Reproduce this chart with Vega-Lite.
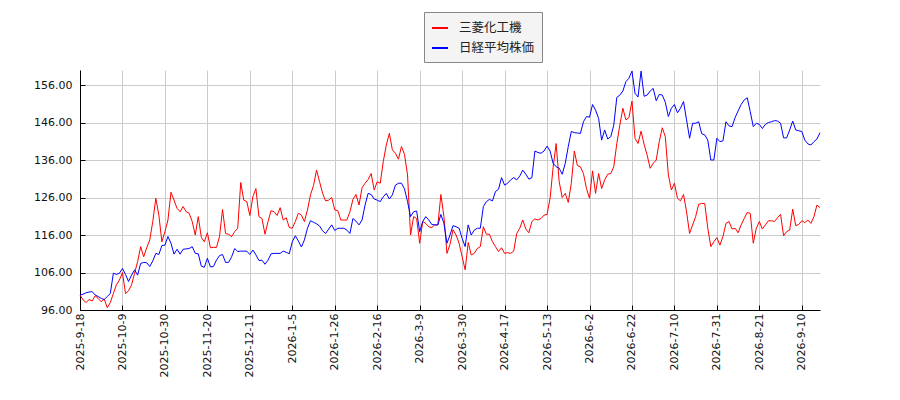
{
  "$schema": "https://vega.github.io/schema/vega-lite/v6.json",
  "description": "三菱化工機 と 日経平均株価 の比較",
  "width": 740,
  "height": 240,
  "autosize": {"type": "none"},
  "padding": {"left": 80, "top": 70, "right": 80, "bottom": 90},
  "background": "#ffffff",
  "data": {
    "values": [
      {"d": "2025-9-18", "三菱化工機": 100.0, "日経平均株価": 100.0},
      {"d": "2025-9-19", "三菱化工機": 98.7, "日経平均株価": 100.2},
      {"d": "2025-9-22", "三菱化工機": 98.0, "日経平均株価": 100.6},
      {"d": "2025-9-24", "三菱化工機": 98.8, "日経平均株価": 100.8},
      {"d": "2025-9-25", "三菱化工機": 98.4, "日経平均株価": 100.9},
      {"d": "2025-9-26", "三菱化工機": 99.8, "日経平均株価": 100.0},
      {"d": "2025-9-29", "三菱化工機": 99.1, "日経平均株価": 99.6},
      {"d": "2025-9-30", "三菱化工機": 98.2, "日経平均株価": 99.1},
      {"d": "2025-10-1", "三菱化工機": 98.9, "日経平均株価": 98.8},
      {"d": "2025-10-2", "三菱化工機": 96.6, "日経平均株価": 99.6},
      {"d": "2025-10-3", "三菱化工機": 98.0, "日経平均株価": 100.4},
      {"d": "2025-10-6", "三菱化工機": 100.4, "日経平均株価": 105.8},
      {"d": "2025-10-7", "三菱化工機": 102.7, "日経平均株価": 105.5},
      {"d": "2025-10-8", "三菱化工機": 104.0, "日経平均株価": 105.8},
      {"d": "2025-10-9", "三菱化工機": 106.0, "日経平均株価": 107.1},
      {"d": "2025-10-10", "三菱化工機": 100.4, "日経平均株価": 105.5},
      {"d": "2025-10-14", "三菱化工機": 101.1, "日経平均株価": 103.6},
      {"d": "2025-10-15", "三菱化工機": 102.7, "日経平均株価": 105.3},
      {"d": "2025-10-16", "三菱化工機": 105.8, "日経平均株価": 106.7},
      {"d": "2025-10-17", "三菱化工機": 108.9, "日経平均株価": 105.3},
      {"d": "2025-10-20", "三菱化工機": 112.9, "日経平均株価": 108.4},
      {"d": "2025-10-21", "三菱化工機": 110.2, "日経平均株価": 108.7},
      {"d": "2025-10-22", "三菱化工機": 112.6, "日経平均株価": 108.6},
      {"d": "2025-10-23", "三菱化工機": 114.7, "日経平均株価": 107.6},
      {"d": "2025-10-24", "三菱化工機": 119.6, "日経平均株価": 109.1},
      {"d": "2025-10-27", "三菱化工機": 125.8, "日経平均株価": 111.1},
      {"d": "2025-10-28", "三菱化工機": 121.3, "日経平均株価": 110.8},
      {"d": "2025-10-29", "三菱化工機": 114.2, "日経平均株価": 113.2},
      {"d": "2025-10-30", "三菱化工機": 116.9, "日経平均株価": 113.3},
      {"d": "2025-10-31", "三菱化工機": 120.0, "日経平均株価": 115.6},
      {"d": "2025-11-4", "三菱化工機": 127.4, "日経平均株価": 113.8},
      {"d": "2025-11-5", "三菱化工機": 125.3, "日経平均株価": 110.9},
      {"d": "2025-11-6", "三菱化工機": 123.1, "日経平均株価": 112.2},
      {"d": "2025-11-7", "三菱化工機": 122.2, "日経平均株価": 110.9},
      {"d": "2025-11-10", "三菱化工機": 123.6, "日経平均株価": 112.2},
      {"d": "2025-11-11", "三菱化工機": 122.2, "日経平均株価": 112.3},
      {"d": "2025-11-12", "三菱化工機": 121.8, "日経平均株価": 112.4},
      {"d": "2025-11-13", "三菱化工機": 119.6, "日経平均株価": 112.9},
      {"d": "2025-11-14", "三菱化工機": 116.0, "日経平均株価": 111.1},
      {"d": "2025-11-17", "三菱化工機": 120.9, "日経平均株価": 111.0},
      {"d": "2025-11-18", "三菱化工機": 115.4, "日経平均株価": 107.7},
      {"d": "2025-11-19", "三菱化工機": 114.2, "日経平均株価": 107.4},
      {"d": "2025-11-20", "三菱化工機": 116.6, "日経平均株価": 109.8},
      {"d": "2025-11-21", "三菱化工機": 112.6, "日経平均株価": 107.5},
      {"d": "2025-11-25", "三菱化工機": 112.7, "日経平均株価": 107.6},
      {"d": "2025-11-26", "三菱化工機": 112.7, "日経平均株価": 109.3},
      {"d": "2025-11-27", "三菱化工機": 115.6, "日経平均株価": 110.5},
      {"d": "2025-11-28", "三菱化工機": 122.8, "日経平均株価": 110.8},
      {"d": "2025-12-1", "三菱化工機": 116.4, "日経平均株価": 108.7},
      {"d": "2025-12-2", "三菱化工機": 116.2, "日経平均株価": 108.7},
      {"d": "2025-12-3", "三菱化工機": 115.6, "日経平均株価": 110.2},
      {"d": "2025-12-4", "三菱化工機": 116.9, "日経平均株価": 112.4},
      {"d": "2025-12-5", "三菱化工機": 117.8, "日経平均株価": 111.6},
      {"d": "2025-12-8", "三菱化工機": 130.0, "日経平均株価": 111.7},
      {"d": "2025-12-9", "三菱化工機": 125.3, "日経平均株価": 111.7},
      {"d": "2025-12-10", "三菱化工機": 124.9, "日経平均株価": 111.7},
      {"d": "2025-12-11", "三菱化工機": 121.2, "日経平均株価": 110.8},
      {"d": "2025-12-12", "三菱化工機": 126.2, "日経平均株価": 112.0},
      {"d": "2025-12-15", "三菱化工機": 128.4, "日経平均株価": 110.7},
      {"d": "2025-12-16", "三菱化工機": 120.9, "日経平均株価": 109.2},
      {"d": "2025-12-17", "三菱化工機": 120.4, "日経平均株価": 109.3},
      {"d": "2025-12-18", "三菱化工機": 116.2, "日経平均株価": 108.2},
      {"d": "2025-12-19", "三菱化工機": 119.6, "日経平均株価": 109.3},
      {"d": "2025-12-22", "三菱化工機": 122.5, "日経平均株価": 111.0},
      {"d": "2025-12-23", "三菱化工機": 122.2, "日経平均株価": 111.1},
      {"d": "2025-12-24", "三菱化工機": 121.2, "日経平均株価": 111.1},
      {"d": "2025-12-25", "三菱化工機": 123.3, "日経平均株価": 111.1},
      {"d": "2025-12-26", "三菱化工機": 120.0, "日経平均株価": 111.7},
      {"d": "2025-12-29", "三菱化工機": 120.6, "日経平均株価": 111.4},
      {"d": "2025-12-30", "三菱化工機": 118.0, "日経平均株価": 111.0},
      {"d": "2026-1-5", "三菱化工機": 117.8, "日経平均株価": 114.2},
      {"d": "2026-1-6", "三菱化工機": 119.6, "日経平均株価": 115.8},
      {"d": "2026-1-7", "三菱化工機": 121.8, "日経平均株価": 114.4},
      {"d": "2026-1-8", "三菱化工機": 121.3, "日経平均株価": 112.8},
      {"d": "2026-1-9", "三菱化工機": 119.6, "日経平均株価": 114.7},
      {"d": "2026-1-13", "三菱化工機": 122.7, "日経平均株価": 117.8},
      {"d": "2026-1-14", "三菱化工機": 126.7, "日経平均株価": 119.8},
      {"d": "2026-1-15", "三菱化工機": 129.2, "日経平均株価": 119.4},
      {"d": "2026-1-16", "三菱化工機": 133.3, "日経平均株価": 119.0},
      {"d": "2026-1-19", "三菱化工機": 130.2, "日経平均株価": 118.4},
      {"d": "2026-1-20", "三菱化工機": 127.1, "日経平均株価": 117.1},
      {"d": "2026-1-21", "三菱化工機": 125.1, "日経平均株価": 116.4},
      {"d": "2026-1-22", "三菱化工機": 125.3, "日経平均株価": 117.6},
      {"d": "2026-1-23", "三菱化工機": 126.0, "日経平均株価": 118.7},
      {"d": "2026-1-26", "三菱化工機": 122.7, "日経平均株価": 117.2},
      {"d": "2026-1-27", "三菱化工機": 122.5, "日経平均株価": 117.8},
      {"d": "2026-1-28", "三菱化工機": 120.0, "日経平均株価": 117.8},
      {"d": "2026-1-29", "三菱化工機": 120.0, "日経平均株価": 117.8},
      {"d": "2026-1-30", "三菱化工機": 120.0, "日経平均株価": 117.3},
      {"d": "2026-2-2", "三菱化工機": 122.2, "日経平均株価": 116.4},
      {"d": "2026-2-3", "三菱化工機": 125.5, "日経平均株価": 120.4},
      {"d": "2026-2-4", "三菱化工機": 126.8, "日経平均株価": 119.7},
      {"d": "2026-2-5", "三菱化工機": 124.0, "日経平均株価": 118.7},
      {"d": "2026-2-6", "三菱化工機": 128.6, "日経平均株価": 120.0},
      {"d": "2026-2-9", "三菱化工機": 129.8, "日経平均株価": 124.0},
      {"d": "2026-2-10", "三菱化工機": 130.8, "日経平均株価": 127.1},
      {"d": "2026-2-12", "三菱化工機": 132.4, "日経平均株価": 126.8},
      {"d": "2026-2-13", "三菱化工機": 128.0, "日経平均株価": 125.6},
      {"d": "2026-2-16", "三菱化工機": 130.2, "日経平均株価": 125.3},
      {"d": "2026-2-17", "三菱化工機": 129.8, "日経平均株価": 124.9},
      {"d": "2026-2-18", "三菱化工機": 135.6, "日経平均株価": 126.2},
      {"d": "2026-2-19", "三菱化工機": 140.0, "日経平均株価": 127.1},
      {"d": "2026-2-20", "三菱化工機": 143.1, "日経平均株価": 125.6},
      {"d": "2026-2-24", "三菱化工機": 138.7, "日経平均株価": 126.7},
      {"d": "2026-2-25", "三菱化工機": 137.8, "日経平均株価": 129.3},
      {"d": "2026-2-26", "三菱化工機": 136.2, "日経平均株価": 129.8},
      {"d": "2026-2-27", "三菱化工機": 139.6, "日経平均株価": 129.8},
      {"d": "2026-3-2", "三菱化工機": 137.5, "日経平均株価": 128.3},
      {"d": "2026-3-3", "三菱化工機": 132.0, "日経平均株価": 124.9},
      {"d": "2026-3-4", "三菱化工機": 116.0, "日経平均株価": 120.9},
      {"d": "2026-3-5", "三菱化工機": 120.9, "日経平均株価": 122.2},
      {"d": "2026-3-6", "三菱化工機": 120.4, "日経平均株価": 122.4},
      {"d": "2026-3-9", "三菱化工機": 113.8, "日経平均株価": 116.9},
      {"d": "2026-3-10", "三菱化工機": 119.6, "日経平均株価": 119.6},
      {"d": "2026-3-11", "三菱化工機": 119.1, "日経平均株価": 120.9},
      {"d": "2026-3-12", "三菱化工機": 118.2, "日経平均株価": 120.0},
      {"d": "2026-3-13", "三菱化工機": 118.0, "日経平均株価": 118.8},
      {"d": "2026-3-16", "三菱化工機": 118.7, "日経平均株価": 118.7},
      {"d": "2026-3-17", "三菱化工機": 118.7, "日経平均株価": 118.7},
      {"d": "2026-3-18", "三菱化工機": 126.8, "日経平均株価": 121.5},
      {"d": "2026-3-19", "三菱化工機": 120.9, "日経平均株価": 119.1},
      {"d": "2026-3-23", "三菱化工機": 111.1, "日経平均株価": 113.8},
      {"d": "2026-3-24", "三菱化工機": 113.5, "日経平均株価": 116.0},
      {"d": "2026-3-25", "三菱化工機": 117.4, "日経平均株価": 118.5},
      {"d": "2026-3-26", "三菱化工機": 116.0, "日経平均株価": 118.2},
      {"d": "2026-3-27", "三菱化工機": 113.8, "日経平均株価": 117.8},
      {"d": "2026-3-30", "三菱化工機": 110.2, "日経平均株価": 115.1},
      {"d": "2026-3-31", "三菱化工機": 106.7, "日経平均株価": 112.9},
      {"d": "2026-4-1", "三菱化工機": 114.0, "日経平均株価": 118.7},
      {"d": "2026-4-2", "三菱化工機": 110.7, "日経平均株価": 116.0},
      {"d": "2026-4-3", "三菱化工機": 111.1, "日経平均株価": 117.3},
      {"d": "2026-4-6", "三菱化工機": 112.4, "日経平均株価": 117.8},
      {"d": "2026-4-7", "三菱化工機": 112.9, "日経平均株価": 117.8},
      {"d": "2026-4-8", "三菱化工機": 118.2, "日経平均株価": 123.6},
      {"d": "2026-4-9", "三菱化工機": 116.2, "日経平均株価": 124.9},
      {"d": "2026-4-10", "三菱化工機": 116.2, "日経平均株価": 125.5},
      {"d": "2026-4-13", "三菱化工機": 114.2, "日経平均株価": 125.1},
      {"d": "2026-4-14", "三菱化工機": 112.9, "日経平均株価": 127.6},
      {"d": "2026-4-15", "三菱化工機": 111.6, "日経平均株価": 128.2},
      {"d": "2026-4-16", "三菱化工機": 112.6, "日経平均株価": 131.3},
      {"d": "2026-4-17", "三菱化工機": 111.1, "日経平均株価": 129.3},
      {"d": "2026-4-20", "三菱化工機": 111.3, "日経平均株価": 129.8},
      {"d": "2026-4-21", "三菱化工機": 111.1, "日経平均株価": 130.7},
      {"d": "2026-4-22", "三菱化工機": 111.7, "日経平均株価": 131.3},
      {"d": "2026-4-23", "三菱化工機": 116.4, "日経平均株価": 130.7},
      {"d": "2026-4-24", "三菱化工機": 117.8, "日経平均株価": 131.7},
      {"d": "2026-4-27", "三菱化工機": 120.0, "日経平均株価": 133.3},
      {"d": "2026-4-28", "三菱化工機": 117.6, "日経平均株価": 132.2},
      {"d": "2026-4-30", "三菱化工機": 116.6, "日経平均株価": 130.9},
      {"d": "2026-5-1", "三菱化工機": 119.6, "日経平均株価": 131.3},
      {"d": "2026-5-7", "三菱化工機": 120.3, "日経平均株価": 138.4},
      {"d": "2026-5-8", "三菱化工機": 120.0, "日経平均株価": 138.0},
      {"d": "2026-5-11", "三菱化工機": 120.4, "日経平均株価": 137.8},
      {"d": "2026-5-12", "三菱化工機": 121.3, "日経平均株価": 138.4},
      {"d": "2026-5-13", "三菱化工機": 121.5, "日経平均株価": 139.7},
      {"d": "2026-5-14", "三菱化工機": 125.8, "日経平均株価": 138.4},
      {"d": "2026-5-15", "三菱化工機": 134.0, "日経平均株価": 135.1},
      {"d": "2026-5-18", "三菱化工機": 140.4, "日経平均株価": 134.2},
      {"d": "2026-5-19", "三菱化工機": 130.2, "日経平均株価": 133.8},
      {"d": "2026-5-20", "三菱化工機": 126.0, "日経平均株価": 132.2},
      {"d": "2026-5-21", "三菱化工機": 127.1, "日経平均株価": 135.1},
      {"d": "2026-5-22", "三菱化工機": 124.7, "日経平均株価": 139.6},
      {"d": "2026-5-25", "三菱化工機": 129.8, "日経平均株価": 143.6},
      {"d": "2026-5-26", "三菱化工機": 138.4, "日経平均株価": 143.3},
      {"d": "2026-5-27", "三菱化工機": 134.5, "日経平均株価": 143.2},
      {"d": "2026-5-28", "三菱化工機": 134.2, "日経平均株価": 143.1},
      {"d": "2026-5-29", "三菱化工機": 132.4, "日経平均株価": 146.2},
      {"d": "2026-6-1", "三菱化工機": 128.4, "日経平均株価": 147.6},
      {"d": "2026-6-2", "三菱化工機": 125.8, "日経平均株価": 147.4},
      {"d": "2026-6-3", "三菱化工機": 133.1, "日経平均株価": 150.8},
      {"d": "2026-6-4", "三菱化工機": 127.1, "日経平均株価": 149.3},
      {"d": "2026-6-5", "三菱化工機": 132.4, "日経平均株価": 147.1},
      {"d": "2026-6-8", "三菱化工機": 128.4, "日経平均株価": 141.3},
      {"d": "2026-6-9", "三菱化工機": 130.7, "日経平均株価": 144.0},
      {"d": "2026-6-10", "三菱化工機": 132.2, "日経平均株価": 141.6},
      {"d": "2026-6-11", "三菱化工機": 132.4, "日経平均株価": 142.2},
      {"d": "2026-6-12", "三菱化工機": 134.2, "日経平均株価": 145.3},
      {"d": "2026-6-15", "三菱化工機": 140.4, "日経平均株価": 152.7},
      {"d": "2026-6-16", "三菱化工機": 145.3, "日経平均株価": 153.3},
      {"d": "2026-6-17", "三菱化工機": 149.8, "日経平均株価": 154.4},
      {"d": "2026-6-18", "三菱化工機": 146.7, "日経平均株価": 156.9},
      {"d": "2026-6-19", "三菱化工機": 147.3, "日経平均株価": 157.8},
      {"d": "2026-6-22", "三菱化工機": 151.7, "日経平均株価": 159.7},
      {"d": "2026-6-23", "三菱化工機": 141.8, "日経平均株価": 153.8},
      {"d": "2026-6-24", "三菱化工機": 140.4, "日経平均株価": 152.8},
      {"d": "2026-6-25", "三菱化工機": 143.7, "日経平均株価": 159.7},
      {"d": "2026-6-26", "三菱化工機": 140.2, "日経平均株価": 153.0},
      {"d": "2026-6-29", "三菱化工機": 137.3, "日経平均株価": 153.3},
      {"d": "2026-6-30", "三菱化工機": 133.8, "日経平均株価": 154.4},
      {"d": "2026-7-1", "三菱化工機": 135.1, "日経平均株価": 155.1},
      {"d": "2026-7-2", "三菱化工機": 136.0, "日経平均株価": 151.8},
      {"d": "2026-7-3", "三菱化工機": 140.9, "日経平均株価": 153.5},
      {"d": "2026-7-6", "三菱化工機": 144.6, "日経平均株価": 153.3},
      {"d": "2026-7-7", "三菱化工機": 142.2, "日経平均株価": 151.4},
      {"d": "2026-7-8", "三菱化工機": 132.0, "日経平均株価": 147.6},
      {"d": "2026-7-9", "三菱化工機": 128.0, "日経平均株価": 149.8},
      {"d": "2026-7-10", "三菱化工機": 129.8, "日経平均株価": 150.8},
      {"d": "2026-7-13", "三菱化工機": 125.8, "日経平均株価": 148.6},
      {"d": "2026-7-14", "三菱化工機": 125.1, "日経平均株価": 149.8},
      {"d": "2026-7-15", "三菱化工機": 126.8, "日経平均株価": 151.6},
      {"d": "2026-7-16", "三菱化工機": 122.2, "日経平均株価": 146.7},
      {"d": "2026-7-17", "三菱化工機": 116.4, "日経平均株価": 141.8},
      {"d": "2026-7-21", "三菱化工機": 118.7, "日経平均株価": 145.8},
      {"d": "2026-7-22", "三菱化工機": 120.9, "日経平均株価": 145.8},
      {"d": "2026-7-23", "三菱化工機": 124.2, "日経平均株価": 146.2},
      {"d": "2026-7-24", "三菱化工機": 124.4, "日経平均株価": 143.0},
      {"d": "2026-7-27", "三菱化工機": 124.4, "日経平均株価": 142.7},
      {"d": "2026-7-28", "三菱化工機": 117.8, "日経平均株価": 141.3},
      {"d": "2026-7-29", "三菱化工機": 112.9, "日経平均株価": 136.0},
      {"d": "2026-7-30", "三菱化工機": 114.2, "日経平均株価": 136.0},
      {"d": "2026-7-31", "三菱化工機": 115.3, "日経平均株価": 141.8},
      {"d": "2026-8-3", "三菱化工機": 113.3, "日経平均株価": 140.9},
      {"d": "2026-8-4", "三菱化工機": 115.6, "日経平均株価": 141.1},
      {"d": "2026-8-5", "三菱化工機": 119.1, "日経平均株価": 146.2},
      {"d": "2026-8-6", "三菱化工機": 119.6, "日経平均株価": 145.1},
      {"d": "2026-8-7", "三菱化工機": 117.6, "日経平均株価": 144.9},
      {"d": "2026-8-10", "三菱化工機": 117.8, "日経平均株価": 147.3},
      {"d": "2026-8-12", "三菱化工機": 116.6, "日経平均株価": 149.1},
      {"d": "2026-8-13", "三菱化工機": 118.7, "日経平均株価": 150.8},
      {"d": "2026-8-14", "三菱化工機": 120.4, "日経平均株価": 152.0},
      {"d": "2026-8-17", "三菱化工機": 122.0, "日経平均株価": 152.6},
      {"d": "2026-8-18", "三菱化工機": 121.8, "日経平均株価": 148.9},
      {"d": "2026-8-19", "三菱化工機": 113.8, "日経平均株価": 144.9},
      {"d": "2026-8-20", "三菱化工機": 117.8, "日経平均株価": 145.8},
      {"d": "2026-8-21", "三菱化工機": 119.6, "日経平均株価": 145.5},
      {"d": "2026-8-24", "三菱化工機": 117.6, "日経平均株価": 144.4},
      {"d": "2026-8-25", "三菱化工機": 118.7, "日経平均株価": 145.5},
      {"d": "2026-8-26", "三菱化工機": 119.8, "日経平均株価": 146.0},
      {"d": "2026-8-27", "三菱化工機": 119.8, "日経平均株価": 146.2},
      {"d": "2026-8-28", "三菱化工機": 119.6, "日経平均株価": 146.5},
      {"d": "2026-8-31", "三菱化工機": 120.6, "日経平均株価": 146.4},
      {"d": "2026-9-1", "三菱化工機": 121.5, "日経平均株価": 145.8},
      {"d": "2026-9-2", "三菱化工機": 115.8, "日経平均株価": 141.9},
      {"d": "2026-9-3", "三菱化工機": 116.9, "日経平均株価": 141.9},
      {"d": "2026-9-4", "三菱化工機": 117.3, "日経平均株価": 144.0},
      {"d": "2026-9-7", "三菱化工機": 122.9, "日経平均株価": 146.4},
      {"d": "2026-9-8", "三菱化工機": 118.5, "日経平均株価": 144.0},
      {"d": "2026-9-9", "三菱化工機": 118.8, "日経平均株価": 143.8},
      {"d": "2026-9-10", "三菱化工機": 119.8, "日経平均株価": 143.6},
      {"d": "2026-9-11", "三菱化工機": 119.3, "日経平均株価": 141.3},
      {"d": "2026-9-14", "三菱化工機": 120.0, "日経平均株価": 140.3},
      {"d": "2026-9-15", "三菱化工機": 119.1, "日経平均株価": 140.0},
      {"d": "2026-9-16", "三菱化工機": 120.9, "日経平均株価": 140.9},
      {"d": "2026-9-17", "三菱化工機": 124.0, "日経平均株価": 141.6},
      {"d": "2026-9-18", "三菱化工機": 123.3, "日経平均株価": 143.3}
    ]
  },
  "transform": [
    {"fold": ["三菱化工機", "日経平均株価"], "as": ["series", "value"]}
  ],
  "mark": {"type": "line", "strokeWidth": 1, "interpolate": "linear"},
  "encoding": {
    "x": {
      "field": "d",
      "type": "ordinal",
      "sort": null,
      "title": null,
      "scale": {"type": "point", "padding": 0},
      "axis": {
        "values": [
          "2025-9-18", "2025-10-9", "2025-10-30", "2025-11-20", "2025-12-11",
          "2026-1-5", "2026-1-26", "2026-2-16", "2026-3-9", "2026-3-30",
          "2026-4-17", "2026-5-13", "2026-6-2", "2026-6-22", "2026-7-10",
          "2026-7-31", "2026-8-21", "2026-9-10"
        ],
        "labelAngle": 270,
        "labelPadding": 8,
        "grid": true
      }
    },
    "y": {
      "field": "value",
      "type": "quantitative",
      "title": null,
      "scale": {"domain": [96, 160], "nice": false, "zero": false},
      "axis": {
        "values": [96, 106, 116, 126, 136, 146, 156],
        "format": ".2f",
        "labelPadding": 13,
        "grid": true
      }
    },
    "color": {
      "field": "series",
      "type": "nominal",
      "sort": ["三菱化工機", "日経平均株価"],
      "title": null,
      "scale": {"range": ["#ff0000", "#0000ff"]},
      "legend": {
        "orient": "none",
        "legendX": 344,
        "legendY": -58,
        "direction": "vertical",
        "symbolType": "stroke",
        "symbolSize": 256,
        "symbolStrokeWidth": 2,
        "labelFont": "Noto Sans CJK JP",
        "labelFontSize": 12.5,
        "labelColor": "#222222",
        "labelOffset": 10,
        "rowPadding": 4,
        "padding": 7,
        "fillColor": "#f4f4f4",
        "strokeColor": "#888888"
      }
    }
  },
  "config": {
    "view": {"stroke": null},
    "axis": {
      "labelFont": "DejaVu Sans",
      "labelFontSize": 11,
      "labelColor": "#111111",
      "domainColor": "#000000",
      "domainWidth": 1,
      "tickColor": "#000000",
      "tickSize": -5,
      "gridColor": "#cccccc",
      "gridWidth": 1
    }
  }
}
